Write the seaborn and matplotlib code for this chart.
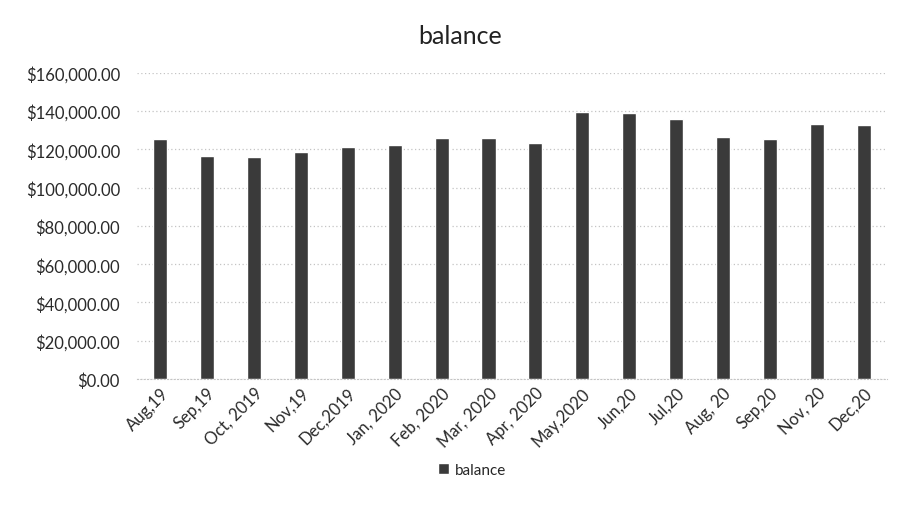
import matplotlib
matplotlib.use('Agg')
import matplotlib.pyplot as plt
import matplotlib.ticker as mticker
import pandas as pd
import seaborn as sns

# Data
months = ['Aug,19', 'Sep,19', 'Oct, 2019', 'Nov,19', 'Dec,2019', 'Jan, 2020',
          'Feb, 2020', 'Mar, 2020', 'Apr, 2020', 'May,2020', 'Jun,20', 'Jul,20',
          'Aug, 20', 'Sep,20', 'Nov, 20', 'Dec,20']
balance = [125500, 116300, 115800, 118800, 121000, 122500,
           126200, 126200, 123200, 139500, 139100, 135800,
           126700, 125300, 133200, 132600]
y_ticks = [0, 20000, 40000, 60000, 80000, 100000, 120000, 140000, 160000]

df = pd.DataFrame({'month': months, 'balance': balance})

sns.set_style('white')
plt.rcParams['font.family'] = ['Lato', 'DejaVu Sans']

fig = plt.figure(figsize=(8.99, 5.06), dpi=100)
ax = fig.add_axes([0.152, 0.249, 0.835, 0.605])

sns.barplot(data=df, x='month', y='balance', color='#3a3a3a', width=0.3,
            saturation=1, label='balance', ax=ax)

ax.set_ylim(0, 160000)
ax.set_yticks(y_ticks)
ax.yaxis.set_major_formatter(mticker.FuncFormatter(lambda v, p: '${:,.2f}'.format(v)))
ax.grid(axis='y', color='#c4c4c4', linestyle=(0, (1, 2)), linewidth=0.9)
ax.set_axisbelow(True)
ax.set_xlabel('')
ax.set_ylabel('')
for s in ['top', 'right', 'left']:
    ax.spines[s].set_visible(False)
ax.spines['bottom'].set_color('#c4c4c4')
ax.spines['bottom'].set_linestyle((0, (1, 2)))
ax.tick_params(axis='both', length=0, labelsize=12, colors='#2a2a2a')
ax.tick_params(axis='y', pad=12)
ax.tick_params(axis='x', pad=4)
plt.setp(ax.get_xticklabels(), rotation=45, ha='right', rotation_mode='anchor')

fig.text(0.512, 0.928, 'balance', fontsize=18, color='#222222',
         ha='center', va='center')

if ax.get_legend() is not None:
    ax.get_legend().remove()
handles, labels = ax.get_legend_handles_labels()
fig.legend(handles, labels, loc='center', bbox_to_anchor=(0.525, 0.069),
           frameon=False, fontsize=11, handlelength=0.7, handleheight=0.7,
           handletextpad=0.4)

fig.savefig('out.png', dpi=100)
